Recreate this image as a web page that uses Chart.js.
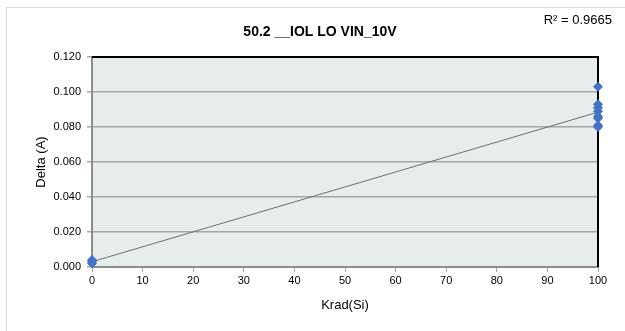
<!DOCTYPE html>
<html>
<head>
<meta charset="utf-8">
<script src="https://cdn.jsdelivr.net/npm/chart.js@4"></script>
<style>
  html, body { margin: 0; padding: 0; background: #fff; }
  #wrap { width: 625px; height: 331px; }
</style>
</head>
<body>
<div id="wrap"><canvas id="chart" width="625" height="331"></canvas></div>
<script>
// dados
const doseKrad = [0, 0, 0, 100, 100, 100, 100, 100, 100, 100, 100];
const deltaAmp = [0.004, 0.002, 0.003, 0.103, 0.093, 0.091, 0.089, 0.086, 0.085, 0.081, 0.080];
const chartTitle = '50.2 __IOL LO VIN_10V';
const r2Label = 'R\u00B2 = 0.9665';
const xTicks = [0, 10, 20, 30, 40, 50, 60, 70, 80, 90, 100];
const yTicks = [0, 0.02, 0.04, 0.06, 0.08, 0.1, 0.12];

const FONT = "'Liberation Sans', Arial, sans-serif";

// linha de tendência (mínimos quadrados)
function linearFit(xs, ys) {
    const n = xs.length;
    const mx = xs.reduce((a, b) => a + b, 0) / n;
    const my = ys.reduce((a, b) => a + b, 0) / n;
    let sxy = 0, sxx = 0;
    for (let i = 0; i < n; i++) {
        sxy += (xs[i] - mx) * (ys[i] - my);
        sxx += (xs[i] - mx) * (xs[i] - mx);
    }
    const slope = sxy / sxx;
    return { slope, intercept: my - slope * mx };
}
const fit = linearFit(doseKrad, deltaAmp);
const trendPoints = [xTicks[0], xTicks[xTicks.length - 1]].map(x => ({ x, y: fit.intercept + fit.slope * x }));

// fundo da área do gráfico, borda e textos
const decorPlugin = {
    id: 'decor',
    beforeDraw(chart) {
        const { ctx, chartArea: a } = chart;
        ctx.save();
        ctx.fillStyle = '#ffffff';
        ctx.fillRect(0, 0, chart.width, chart.height);
        ctx.strokeStyle = '#d9d9d9';
        ctx.lineWidth = 1;
        ctx.strokeRect(6.5, 7.5, chart.width, chart.height);
        ctx.fillStyle = '#e7ecec';
        ctx.fillRect(a.left, a.top, a.right - a.left, a.bottom - a.top);
        ctx.restore();
    },
    beforeDatasetsDraw(chart) {
        const { ctx, chartArea: a } = chart;
        ctx.save();
        ctx.strokeStyle = '#000000';
        ctx.lineWidth = 2;
        ctx.beginPath();
        ctx.moveTo(a.left, a.top);
        ctx.lineTo(a.right, a.top);
        ctx.lineTo(a.right, a.bottom);
        ctx.stroke();
        ctx.restore();
    },
    afterDraw(chart) {
        const { ctx } = chart;
        ctx.save();
        ctx.fillStyle = '#000000';
        ctx.font = 'bold 14px ' + FONT;
        ctx.textAlign = 'center';
        ctx.textBaseline = 'middle';
        ctx.fillText(chartTitle, 320, 32);
        ctx.font = '13px ' + FONT;
        ctx.textAlign = 'right';
        ctx.fillText(r2Label, 612, 20);
        ctx.restore();
    }
};

new Chart(document.getElementById('chart'), {
    type: 'scatter',
    data: {
        datasets: [{
            label: 'Delta',
            data: doseKrad.map((x, i) => ({ x, y: deltaAmp[i] })),
            pointStyle: 'rectRot',
            pointRadius: 4.5,
            pointBackgroundColor: '#4472c4',
            pointBorderColor: '#4472c4',
            pointBorderWidth: 1,
            clip: false,
            order: 1
        }, {
            label: 'Tendência',
            type: 'line',
            data: trendPoints,
            borderColor: '#6e6e6e',
            borderWidth: 1,
            pointRadius: 0,
            fill: false,
            order: 2
        }]
    },
    options: {
        responsive: false,
        animation: false,
        layout: { padding: { left: 0, right: 27, top: 57, bottom: 0 } },
        plugins: {
            legend: { display: false },
            tooltip: { enabled: false }
        },
        scales: {
            x: {
                type: 'linear',
                min: 0,
                max: 100,
                afterBuildTicks: s => { s.ticks = xTicks.map(v => ({ value: v })); },
                afterFit: s => { s.height = 64; },
                ticks: { color: '#000', font: { family: FONT, size: 11 }, padding: 2 },
                grid: { drawOnChartArea: false, drawTicks: true, tickLength: 5, color: '#a6a6a6', lineWidth: 1 },
                border: { color: '#8c8c8c', width: 2 },
                title: { display: true, text: 'Krad(Si)', color: '#000', font: { family: FONT, size: 13 }, padding: { bottom: 18 } }
            },
            y: {
                min: 0,
                max: 0.12,
                afterBuildTicks: s => { s.ticks = yTicks.map(v => ({ value: v })); },
                afterFit: s => { s.width = 92; },
                ticks: { color: '#000', font: { family: FONT, size: 11 }, padding: 6, callback: v => v.toFixed(3) },
                grid: { drawTicks: true, tickLength: 5, color: '#a6a6a6', lineWidth: 1.5 },
                border: { color: '#8c8c8c', width: 2 },
                title: { display: true, text: 'Delta (A)', color: '#000', font: { family: FONT, size: 13 }, padding: { top: 34 } }
            }
        }
    },
    plugins: [decorPlugin]
});
</script>
</body>
</html>
